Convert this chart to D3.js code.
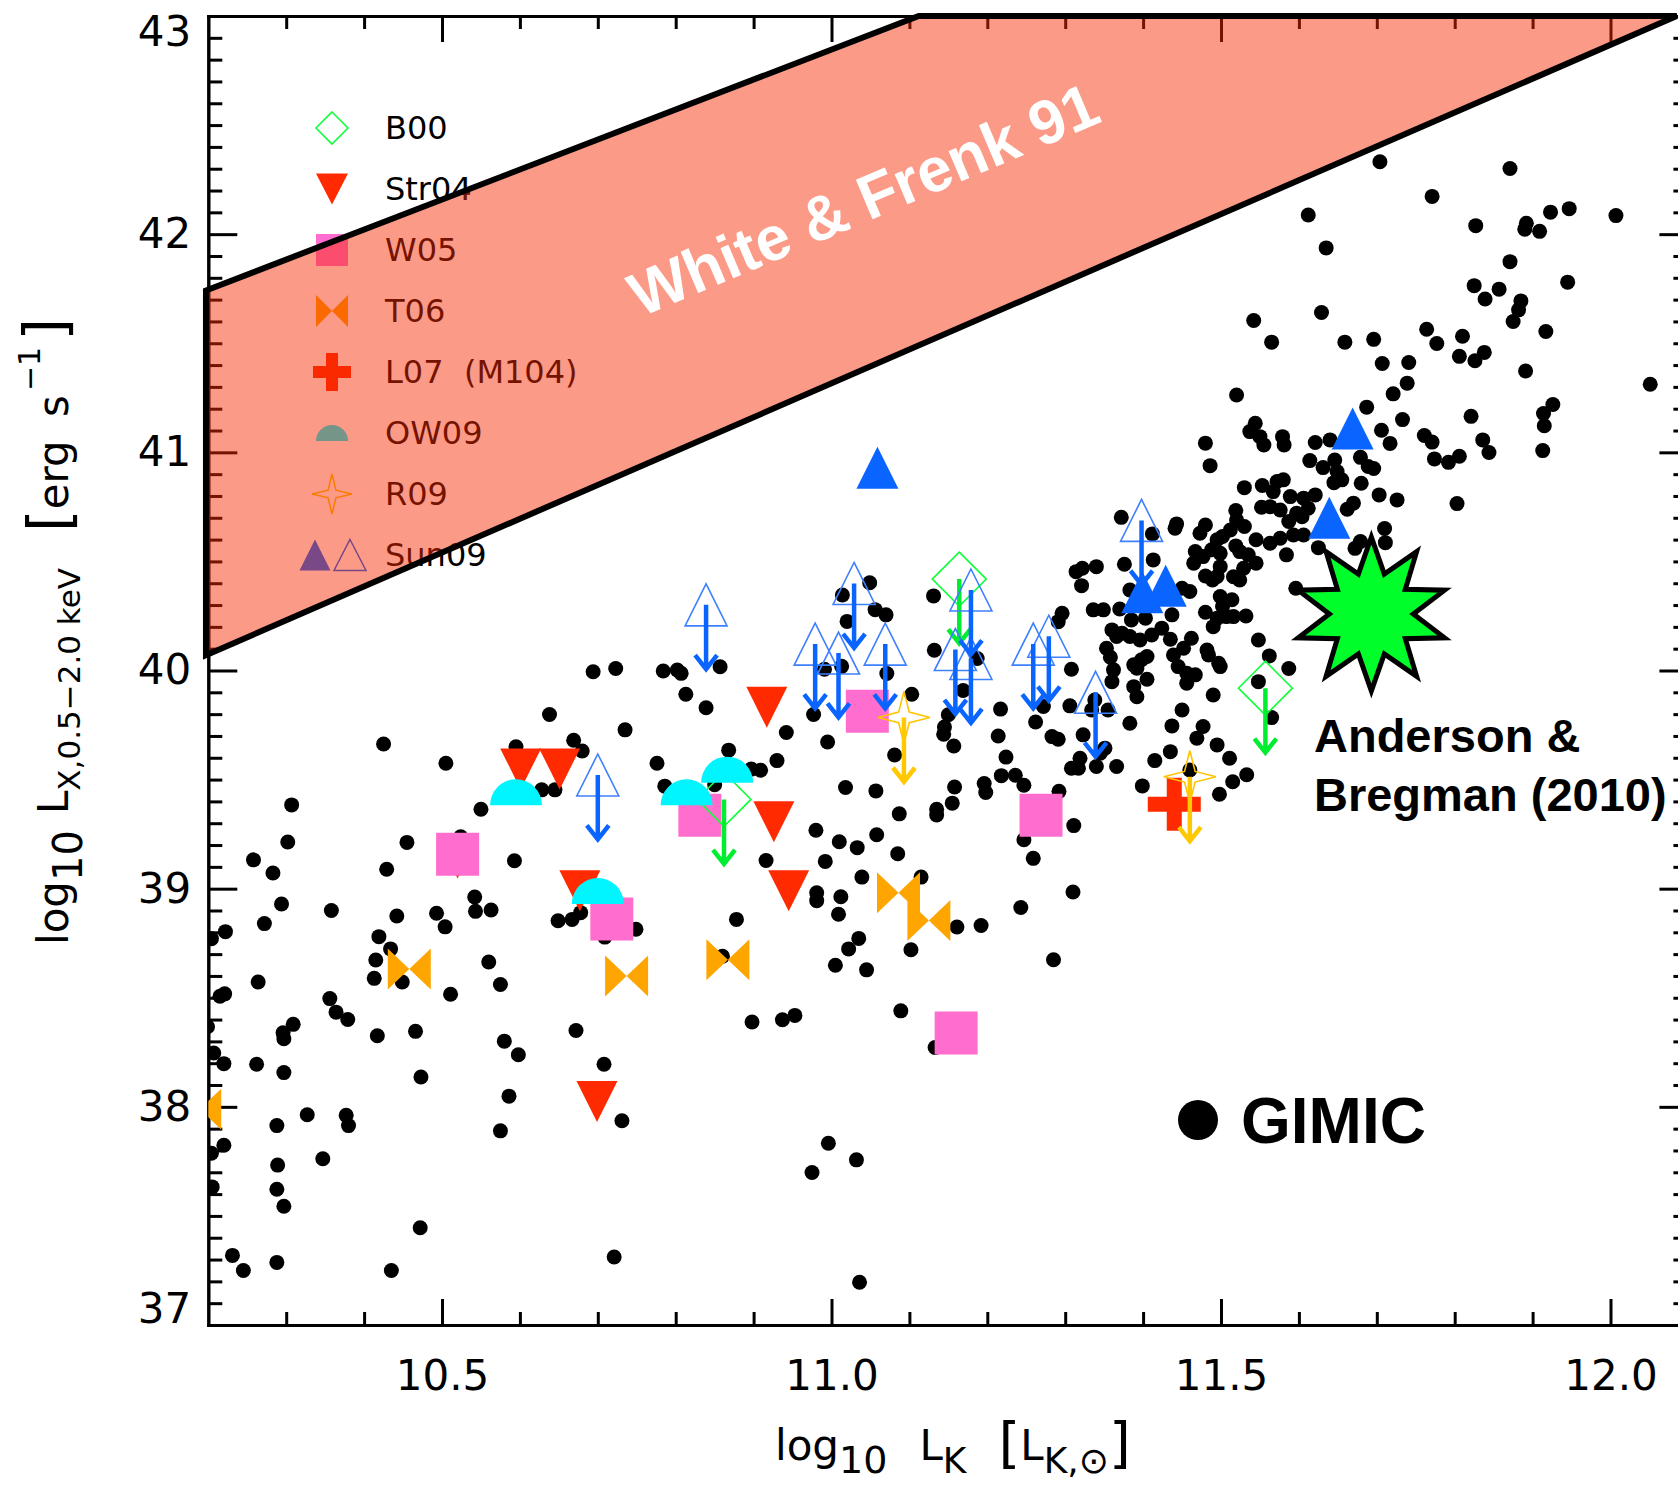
<!DOCTYPE html>
<html><head><meta charset="utf-8">
<script src="https://cdn.jsdelivr.net/npm/d3@7"></script>
<style>html,body{margin:0;padding:0;background:#fff}svg{display:block}</style>
</head><body>
<svg id="c" width="1678" height="1486"></svg>
<script>
// ---------------- DATA (log10 L_K, log10 L_X) ----------------
const xTicks = [10.5, 11.0, 11.5, 12.0];
const yTicks = [37, 38, 39, 40, 41, 42, 43];
const legendLabels = ["B00", "Str04", "W05", "T06", "L07  (M104)", "OW09", "R09", "Sun09"];

const gimic = [
[10.425,39.663],[10.505,39.575],[10.307,39.384],[10.302,39.214],[10.455,39.212],[10.258,39.132],[10.283,39.072],[10.429,39.089],[10.593,39.128],[10.550,39.364],
[10.638,39.798],[10.669,39.680],[10.680,39.631],[10.595,39.650],[10.628,39.453],[10.645,39.453],[10.694,39.994],[10.723,40.009],[10.784,39.998],[10.802,40.002],
[10.807,39.987],[10.813,39.891],[10.839,39.829],[10.857,40.017],[10.735,39.728],[10.776,39.575],[10.786,39.470],[10.868,39.635],[10.850,39.476],[10.524,39.238],
[10.294,38.930],[10.272,38.840],[10.222,38.803],[10.204,38.771],[10.358,38.900],[10.442,38.875],[10.419,38.780],[10.434,38.724],[10.415,38.673],[10.413,38.589],
[10.449,38.572],[10.493,38.887],[10.504,38.825],[10.542,38.962],[10.543,38.896],[10.563,38.902],[10.264,38.572],[10.221,38.518],[10.215,38.507],[10.356,38.496],
[10.364,38.434],[10.379,38.400],[10.309,38.378],[10.296,38.339],[10.297,38.312],[10.511,38.516],[10.560,38.664],[10.575,38.561],[10.417,38.326],[10.466,38.346],
[10.580,38.301],[10.598,38.239],[10.649,38.853],[10.667,38.859],[10.678,38.890],[10.709,38.778],[10.749,38.814],[10.878,38.859],[10.860,38.690],[10.672,38.350],
[10.708,38.195],[10.731,37.936],[10.207,38.247],[10.220,38.198],[10.262,38.195],[10.297,38.157],[10.473,38.137],[10.199,38.367],[10.586,38.049],[10.575,37.890],
[10.327,37.964],[10.377,37.961],[10.380,37.914],[10.288,37.914],[10.220,37.824],[10.204,37.787],[10.347,37.762],[10.289,37.733],[10.288,37.622],[10.205,37.633],
[10.297,37.544],[10.472,37.446],[10.231,37.319],[10.245,37.250],[10.288,37.287],[10.435,37.250],[10.721,37.312],
[11.049,40.402],[11.014,40.346],[11.020,40.225],[11.056,40.279],[11.070,40.255],[11.131,40.342],[11.132,40.093],[11.187,40.055],[10.991,40.006],[11.013,40.019],
[11.071,39.986],[11.103,39.891],[11.169,39.908],[10.977,39.798],[10.995,39.672],[10.942,39.716],[10.930,39.587],[10.909,39.543],[10.897,39.548],[11.081,39.613],
[11.150,39.797],[11.145,39.741],[11.144,39.708],[11.157,39.654],[11.217,39.823],[11.214,39.700],[11.224,39.603],[11.218,39.518],[11.236,39.520],[11.247,39.474],
[11.292,39.446],[11.262,39.764],[11.018,39.464],[11.057,39.448],[11.087,39.343],[11.158,39.466],[11.155,39.392],[11.135,39.364],[11.135,39.338],
[11.196,39.482],[11.198,39.441],[10.980,39.268],[11.010,39.215],[11.033,39.188],[11.058,39.247],[10.992,39.125],[10.916,39.129],[11.085,39.160],[11.039,39.053],
[11.115,39.053],[10.981,38.981],[10.981,38.945],[11.012,38.963],[11.009,38.883],[11.035,38.772],[11.022,38.724],[11.005,38.649],[11.045,38.628],[11.102,38.720],
[11.161,38.824],[11.192,38.831],[11.243,38.914],[11.247,39.224],[11.259,39.139],[11.285,38.674],[11.310,38.985],[11.311,39.289],[11.399,39.471],[11.498,39.433],
[11.515,39.490],
[10.898,38.389],[10.937,38.399],[10.953,38.419],[11.089,38.440],[11.133,38.272],[10.996,37.833],[11.032,37.757],[10.975,37.699],[11.036,37.196],
[11.544,41.133],[11.537,41.095],[11.550,41.072],[11.555,41.034],[11.579,41.072],[11.581,41.034],[11.621,41.045],[11.640,41.057],[11.480,41.042],[11.486,40.939],
[11.614,40.962],[11.631,40.930],[11.646,40.965],[11.649,40.912],[11.645,40.861],[11.655,40.874],[11.679,40.977],[11.689,40.935],[11.680,40.858],[11.530,40.838],
[11.553,40.848],[11.572,40.866],[11.580,40.874],[11.567,40.820],[11.589,40.797],[11.606,40.790],[11.621,40.805],[11.612,40.744],[11.604,40.705],[11.552,40.748],
[11.563,40.751],[11.576,40.736],[11.587,40.683],[11.597,40.721],[11.670,40.767],[11.662,40.739],[11.519,40.733],[11.520,40.690],[11.530,40.660],[11.512,40.644],
[11.480,40.667],[11.473,40.629],[11.443,40.672],[11.441,40.652],[11.502,40.614],[11.495,40.599],[11.488,40.553],[11.467,40.545],[11.465,40.492],[11.477,40.522],
[11.499,40.537],[11.519,40.571],[11.524,40.545],[11.535,40.530],[11.545,40.599],[11.563,40.583],[11.576,40.606],[11.593,40.621],[11.606,40.621],[11.584,40.530],
[11.625,40.563],[11.672,40.560],[11.679,40.591],[11.545,40.492],[11.529,40.469],[11.524,40.415],[11.516,40.430],[11.499,40.476],[11.495,40.431],[11.480,40.433],
[11.489,40.415],[11.372,40.702],[11.412,40.626],[11.413,40.507],[11.376,40.487],[11.340,40.476],[11.314,40.453],[11.322,40.469],[11.321,40.389],[11.383,40.369],
[11.450,40.377],[11.460,40.362],[11.596,40.377],[11.499,40.339],[11.514,40.324],[11.502,40.293],[11.480,40.267],[11.495,40.239],[11.507,40.247],[11.516,40.247],
[11.532,40.250],[11.490,40.201],[11.548,40.140],[11.562,40.067],[11.587,40.009],[11.499,40.018],[11.490,39.888],[11.462,40.148],[11.452,40.102],[11.439,40.071],
[11.445,40.018],[11.456,39.987],[11.467,39.980],[11.456,39.942],[11.435,40.143],[11.424,40.194],[11.411,40.163],[11.396,40.140],[11.383,40.156],[11.373,40.171],
[11.360,40.186],[11.366,40.156],[11.353,40.102],[11.358,40.061],[11.362,40.003],[11.360,39.949],[11.388,40.026],[11.398,40.049],[11.405,40.064],[11.392,40.010],
[11.388,39.926],[11.392,39.880],[11.405,39.960],[11.437,40.255],[11.336,40.278],[11.349,40.278],[11.370,40.282],[11.385,40.232],[11.403,40.240],[11.296,40.262],
[11.291,40.224],[11.308,40.006],[11.306,39.838],[11.283,39.697],[11.291,39.685],[11.323,39.705],[11.351,39.644],[11.319,39.598],[11.308,39.552],[11.317,39.552],
[11.340,39.560],[11.366,39.560],[11.383,39.758],[11.437,39.746],[11.450,39.819],[11.477,39.743],[11.469,39.690],[11.495,39.659],[11.511,39.598],[11.533,39.522],
[11.435,39.628],[11.415,39.587],[11.548,39.949],[11.565,39.784],[11.482,40.094],[11.484,40.071],[11.497,40.033],[11.338,39.865],[11.334,39.819],[11.355,39.819],
[11.272,39.835],[11.345,39.621],[11.460,39.544],
[11.704,42.332],[11.871,42.301],[11.771,42.173],[11.612,42.088],[11.827,42.039],[11.892,42.050],[11.890,42.023],[11.909,42.013],[11.923,42.101],[11.947,42.117],
[12.007,42.085],[11.635,41.937],[11.871,41.874],[11.825,41.764],[11.857,41.748],[11.839,41.703],[11.885,41.694],[11.882,41.653],[11.875,41.600],[11.945,41.780],
[11.917,41.554],[11.542,41.604],[11.565,41.505],[11.629,41.641],[11.659,41.505],[11.696,41.518],[11.764,41.564],[11.777,41.499],[11.810,41.532],[11.806,41.440],
[11.826,41.420],[11.838,41.458],[11.707,41.407],[11.741,41.412],[11.891,41.373],[12.051,41.312],[11.739,41.317],[11.721,41.268],[11.520,41.263],[11.687,41.207],
[11.733,41.150],[11.706,41.101],[11.717,41.041],[11.761,41.077],[11.771,41.047],[11.774,40.970],[11.792,40.954],[11.806,40.982],[11.821,41.165],[11.836,41.057],
[11.844,40.999],[11.914,41.178],[11.926,41.219],[11.915,41.122],[11.913,41.008],[11.803,40.765],[11.726,40.782],[11.696,40.926],[11.710,40.651],[11.711,40.586],
[11.703,40.805]
];

const B00lim   = [[11.164,40.419],[11.557,39.919],[10.862,39.409]];
const Str04    = [[10.520,39.140],[10.917,39.831],[10.926,39.307],[10.945,38.990],[10.601,39.549],[10.651,39.549],[10.677,38.991],[10.699,38.024]];
const W05      = [[11.046,39.813],[11.269,39.337],[11.160,38.338],[10.520,39.158],[10.718,38.861],[10.831,39.336]];
const T06      = [[10.458,38.632],[10.737,38.600],[10.867,38.674],[11.086,38.981],[11.125,38.854],[10.189,37.989]];
const L07      = [[11.440,39.387]];
const OW09     = [[10.595,39.382],[10.814,39.382],[10.866,39.486],[10.700,38.930]];
const R09lim   = [[11.093,39.785],[11.460,39.513]];
const Sun09det = [[11.059,40.929],[11.669,41.109],[11.639,40.700],[11.399,40.359],[11.429,40.389]];
const Sun09lim = [[10.839,40.301],[11.029,40.399],[10.979,40.121],[11.009,40.080],[11.069,40.121],[11.179,40.369],[11.159,40.096],
                  [11.179,40.055],[11.259,40.121],[11.279,40.157],[11.339,39.900],[11.398,40.688],[10.700,39.521]];
const AB10     = [11.693, 40.259];
const wfUpper  = [[10.197, 41.742], [11.112, 43.0]];
const wfLower  = [[10.197, 40.070], [12.085, 43.0]];
const wfLabel  = [11.052, 42.068];

// ---------------- SETUP ----------------
const FONT = "'DejaVu Sans', sans-serif";
const BOLD = "'Liberation Sans', Arial, Helvetica, sans-serif";
const ARROW = 0.295; // upper-limit arrow length in dex

const svg = d3.select('#c');
svg.append('rect').attr('width',1678).attr('height',1486).attr('fill','#fff');

const x = d3.scaleLinear().domain([10.2, 12.1]).range([208.3, 1688.4]);
const y = d3.scaleLinear().domain([37, 43]).range([1325, 16]);
const X0 = x(10.2), X1 = x(12.1), Y0 = y(37), Y1 = y(43);

const minY = d3.range(370, 431).filter(v => v % 10).map(v => v / 10);
const minX = d3.range(103, 121).filter(v => v % 5).map(v => v / 10);

// ---------------- AXES ----------------
const axes = svg.append('g');
function styleAxis(g){
  g.attr('font-family', FONT).attr('font-size', 42);
  g.select('.domain').attr('stroke','#000').attr('stroke-width',3).attr('stroke-linecap','square');
  g.selectAll('.tick line').attr('stroke','#000').attr('stroke-width',3);
  g.selectAll('.tick text').attr('fill','#000').attr('font-family',FONT).attr('font-size',42);
}
function mk(gen, tf){ const g = axes.append('g').attr('transform', tf).call(gen); styleAxis(g); return g; }

const leftMaj = mk(d3.axisLeft(y).tickValues(yTicks).tickSize(-29).tickSizeOuter(0).tickPadding(17).tickFormat(d3.format('d')), `translate(${X0},0)`);
leftMaj.selectAll('.tick text').attr('y', d => d === 43 ? 16 : (d === 37 ? -16 : 0));
mk(d3.axisLeft(y).tickValues(minY).tickSize(-14).tickSizeOuter(0).tickFormat(''), `translate(${X0},0)`);
mk(d3.axisRight(y).tickValues(yTicks).tickSize(-29).tickSizeOuter(0).tickFormat(''), `translate(${X1},0)`);
mk(d3.axisRight(y).tickValues(minY).tickSize(-15).tickSizeOuter(0).tickFormat(''), `translate(${X1},0)`);
mk(d3.axisBottom(x).tickValues(xTicks).tickSize(-26).tickSizeOuter(0).tickPadding(35).tickFormat(d3.format('.1f')), `translate(0,${Y0})`);
mk(d3.axisBottom(x).tickValues(minX).tickSize(-13).tickSizeOuter(0).tickFormat(''), `translate(0,${Y0})`);
mk(d3.axisTop(x).tickValues(xTicks).tickSize(-26).tickSizeOuter(0).tickFormat(''), `translate(0,${Y1})`);
mk(d3.axisTop(x).tickValues(minX).tickSize(-13).tickSizeOuter(0).tickFormat(''), `translate(0,${Y1})`);

// axis titles
const xt = svg.append('text').attr('font-family',FONT).attr('fill','#000')
  .attr('x', 775).attr('y', 1460).attr('font-size', 42);
xt.append('tspan').text('log');
xt.append('tspan').attr('font-size',38).attr('dy',13).text('10');
xt.append('tspan').attr('dy',-13).attr('dx',32).text('L');
xt.append('tspan').attr('font-size',36).attr('dy',13).text('K');
xt.append('tspan').attr('font-size',56).attr('dy',-11).attr('dx',32).text('[');
xt.append('tspan').attr('dy',-2).text('L');
xt.append('tspan').attr('font-size',36).attr('dy',13).text('K,⊙');
xt.append('tspan').attr('font-size',56).attr('dy',-11).text(']');

const yt = svg.append('text').attr('font-family',FONT).attr('fill','#000').attr('font-size',42)
  .attr('transform','translate(68,945) rotate(-90)').attr('x',0).attr('y',0);
yt.append('tspan').text('log');
yt.append('tspan').attr('font-size',40).attr('dy',14).text('10');
yt.append('tspan').attr('dy',-14).attr('dx',16).text('L');
yt.append('tspan').attr('font-size',31).attr('dy',12).text('X,0.5−2.0 keV');
yt.append('tspan').attr('font-size',58).attr('dy',-10).attr('dx',36).text('[');
yt.append('tspan').attr('dy',-2).text('erg');
yt.append('tspan').attr('dx',10).text(' s');
yt.append('tspan').attr('font-size',30).attr('dy',-28).attr('dx',4).text('−1');
yt.append('tspan').attr('font-size',58).attr('dy',26).attr('dx',6).text(']');

// ---------------- SHAPES ----------------
const P = (a) => 'M' + a.map(p => p[0].toFixed(2) + ',' + p[1].toFixed(2)).join('L') + 'Z';
const triUp   = (cx,cy,w,h) => P([[cx,cy-h/2],[cx+w/2,cy+h/2],[cx-w/2,cy+h/2]]);
const triDown = (cx,cy,w,h) => P([[cx-w/2,cy-h/2],[cx+w/2,cy-h/2],[cx,cy+h/2]]);
const square  = (cx,cy,s) => P([[cx-s/2,cy-s/2],[cx+s/2,cy-s/2],[cx+s/2,cy+s/2],[cx-s/2,cy+s/2]]);
const diamond = (cx,cy,r) => P([[cx,cy-r],[cx+r,cy],[cx,cy+r],[cx-r,cy]]);
const bowtie  = (cx,cy,w,h) => P([[cx-w,cy-h],[cx,cy],[cx-w,cy+h]]) + P([[cx+w,cy-h],[cx,cy],[cx+w,cy+h]]);
const cross   = (cx,cy,a,t) => P([[cx-t/2,cy-a],[cx+t/2,cy-a],[cx+t/2,cy-t/2],[cx+a,cy-t/2],[cx+a,cy+t/2],[cx+t/2,cy+t/2],
                                  [cx+t/2,cy+a],[cx-t/2,cy+a],[cx-t/2,cy+t/2],[cx-a,cy+t/2],[cx-a,cy-t/2],[cx-t/2,cy-t/2]]);
const halfDisc = (cx,cy,r) => `M${cx-r},${cy}A${r},${r} 0 0 1 ${cx+r},${cy}Z`;
function star(cx,cy,R,r,n){ const a=[]; for(let i=0;i<2*n;i++){ const t=-Math.PI/2+i*Math.PI/n, rr=i%2?r:R; a.push([cx+rr*Math.cos(t), cy+rr*Math.sin(t)]); } return P(a); }
function arrowPath(cx,cy,len,hw,hh){ return `M${cx},${cy}V${cy+len}M${cx-hw},${cy+len-hh}L${cx},${cy+len}L${cx+hw},${cy+len-hh}`; }
const arrowLen = d => y(d[1]-ARROW) - y(d[1]);

// clip to plot area
svg.append('defs').append('clipPath').attr('id','plot')
  .append('rect').attr('x',X0).attr('y',Y1).attr('width',X1-X0).attr('height',Y0-Y1);
const plot = svg.append('g').attr('clip-path','url(#plot)');

// GIMIC dots
plot.append('g').selectAll('circle').data(gimic).join('circle')
  .attr('cx', d => x(d[0])).attr('cy', d => y(d[1])).attr('r', 7.5).attr('fill','#000');

// Str04
plot.append('g').selectAll('path').data(Str04).join('path')
  .attr('d', d => triDown(x(d[0]), y(d[1]), 41, 41)).attr('fill','#ff2a00');
// W05
plot.append('g').selectAll('path').data(W05).join('path')
  .attr('d', d => square(x(d[0]), y(d[1]), 43)).attr('fill','#ff6ecf');
// T06
plot.append('g').selectAll('path').data(T06).join('path')
  .attr('d', d => bowtie(x(d[0]), y(d[1]), 21.5, 20.5)).attr('fill','#ffa500');
// L07
plot.append('g').selectAll('path').data(L07).join('path')
  .attr('d', d => cross(x(d[0]), y(d[1]), 26.5, 15)).attr('fill','#ff2a00');
// B00 (upper limits)
const gB = plot.append('g');
gB.selectAll('path.s').data(B00lim).join('path').attr('class','s')
  .attr('d', d => diamond(x(d[0]), y(d[1]), 27)).attr('fill','none').attr('stroke','#10ff3a').attr('stroke-width',1.6);
gB.selectAll('path.a').data(B00lim).join('path').attr('class','a')
  .attr('d', d => arrowPath(x(d[0]), y(d[1]), arrowLen(d), 11, 14)).attr('fill','none').attr('stroke','#00ee30').attr('stroke-width',4.5);
// OW09
plot.append('g').selectAll('path').data(OW09).join('path')
  .attr('d', d => halfDisc(x(d[0]), y(d[1]), 26)).attr('fill','#00f5ff');
// R09 (upper limits)
const gR = plot.append('g');
gR.selectAll('path.s').data(R09lim).join('path').attr('class','s')
  .attr('d', d => star(x(d[0]), y(d[1]), 26, 7.5, 4)).attr('fill','none').attr('stroke','#ffc400').attr('stroke-width',1.6);
gR.selectAll('path.a').data(R09lim).join('path').attr('class','a')
  .attr('d', d => arrowPath(x(d[0]), y(d[1]), arrowLen(d), 11, 14)).attr('fill','none').attr('stroke','#ffc800').attr('stroke-width',4.5);
// Sun09 upper limits
const gS = plot.append('g');
gS.selectAll('path.s').data(Sun09lim).join('path').attr('class','s')
  .attr('d', d => triUp(x(d[0]), y(d[1]), 42, 42)).attr('fill','none').attr('stroke','#3f80ff').attr('stroke-width',1.6);
gS.selectAll('path.a').data(Sun09lim).join('path').attr('class','a')
  .attr('d', d => arrowPath(x(d[0]), y(d[1]), arrowLen(d), 11, 14)).attr('fill','none').attr('stroke','#0a64ff').attr('stroke-width',4.5);
// Sun09 detections
plot.append('g').selectAll('path').data(Sun09det).join('path')
  .attr('d', d => triUp(x(d[0]), y(d[1]), 42, 42)).attr('fill','#0a64ff');

// ---------------- LEGEND (under the semi-transparent band) ----------------
const LX = 332, LT = 385, LY0 = 128, LDY = 61;
const leg = svg.append('g');
legendLabels.forEach((lab, i) => {
  const cy = LY0 + i * LDY;
  leg.append('text').attr('x', LT).attr('y', cy + 11).attr('font-family', FONT).attr('font-size', 32)
    .attr('fill', '#000').style('white-space','pre').text(lab);
});
leg.append('path').attr('d', diamond(LX, LY0, 16)).attr('fill','none').attr('stroke','#10ff3a').attr('stroke-width',1.6);
leg.append('path').attr('d', triDown(LX, LY0+LDY, 32, 31)).attr('fill','#ff2a00');
leg.append('path').attr('d', square(LX, LY0+2*LDY, 32)).attr('fill','#ff6ecf');
leg.append('path').attr('d', bowtie(LX, LY0+3*LDY, 16, 16)).attr('fill','#ffa500');
leg.append('path').attr('d', cross(LX, LY0+4*LDY, 19, 12)).attr('fill','#ff2a00');
leg.append('path').attr('d', halfDisc(LX, LY0+5*LDY+8, 16)).attr('fill','#00f5ff');
leg.append('path').attr('d', star(LX, LY0+6*LDY, 20, 5.5, 4)).attr('fill','none').attr('stroke','#ffc400').attr('stroke-width',1.5);
leg.append('path').attr('d', triUp(LX-17, LY0+7*LDY, 31, 31)).attr('fill','#0a64ff');
leg.append('path').attr('d', triUp(LX+18, LY0+7*LDY, 32, 31)).attr('fill','none').attr('stroke','#0a64ff').attr('stroke-width',1.5);

// ---------------- WHITE & FRENK 91 BAND ----------------
const band = [[wfLower[0][0], wfLower[0][1]], [wfUpper[0][0], wfUpper[0][1]], [wfUpper[1][0], wfUpper[1][1]], [wfLower[1][0], wfLower[1][1]]]
  .map(d => [x(d[0]), y(d[1])]);
svg.append('path').attr('d', P(band)).attr('fill','rgb(247,40,0)').attr('fill-opacity',0.47);
svg.append('path').attr('d', P(band)).attr('fill','none').attr('stroke','#000').attr('stroke-width',6).attr('stroke-linejoin','miter');
svg.append('text').attr('transform', `translate(${x(wfLabel[0])},${y(wfLabel[1])}) rotate(-23)`)
  .attr('text-anchor','middle').attr('font-family',BOLD).attr('font-weight','bold').attr('font-size',62)
  .attr('fill','#fff').text('White & Frenk 91');

// ---------------- Anderson & Bregman star ----------------
svg.append('path').attr('d', star(x(AB10[0]), y(AB10[1]), 77, 42, 10))
  .attr('fill','#00ff2a').attr('stroke','#000').attr('stroke-width',5).attr('stroke-linejoin','miter');
svg.append('text').attr('x',1314).attr('y',752).attr('font-family',BOLD).attr('font-weight','bold').attr('font-size',47).attr('fill','#000').text('Anderson &');
svg.append('text').attr('x',1314).attr('y',811).attr('font-family',BOLD).attr('font-weight','bold').attr('font-size',47).attr('fill','#000').text('Bregman (2010)');

// ---------------- GIMIC key ----------------
svg.append('circle').attr('cx',1198).attr('cy',1120).attr('r',20).attr('fill','#000');
svg.append('text').attr('x',1241).attr('y',1143).attr('font-family',BOLD).attr('font-weight','bold').attr('font-size',64).attr('fill','#000').text('GIMIC');
</script>
</body></html>
